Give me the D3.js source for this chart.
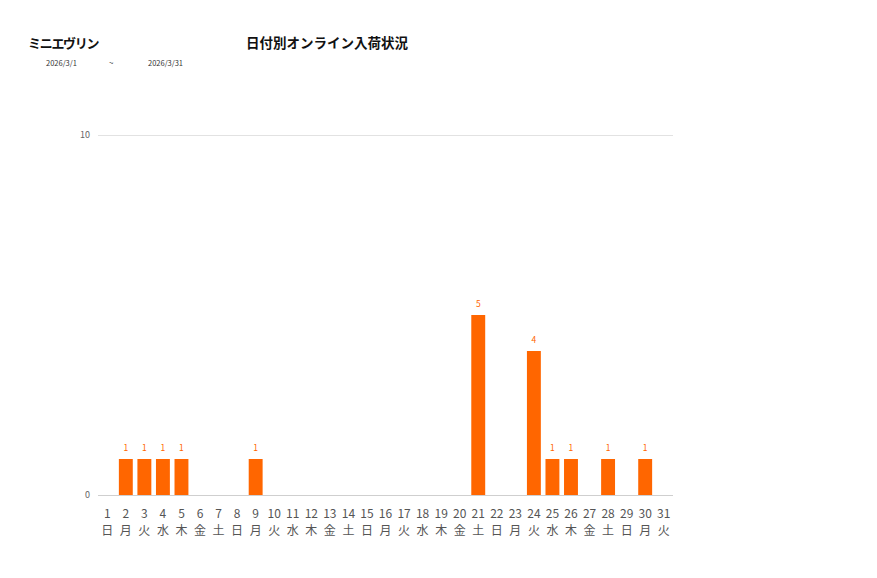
<!DOCTYPE html>
<html lang="ja">
  <head>
    <meta charset="UTF-8" />
    <title>日付別オンライン入荷状況</title>
    <style>
      body { margin: 0; background: #fff; }
      #chart { width: 877px; height: 578px; position: relative; }
      text { font-family: "Noto Sans CJK JP", "Noto Sans", sans-serif; }
    </style>
  </head>
  <body>
    <div id="chart"></div>
    <script src="https://cdn.jsdelivr.net/npm/d3@7/dist/d3.min.js"></script>
    <script>
      // data
      var days = ["1","2","3","4","5","6","7","8","9","10","11","12","13","14","15","16",
                  "17","18","19","20","21","22","23","24","25","26","27","28","29","30","31"];
      var weekdays = ["日","月","火","水","木","金","土","日","月","火","水","木","金","土","日","月",
                      "火","水","木","金","土","日","月","火","水","木","金","土","日","月","火"];
      var values = [0,1,1,1,1,0,0,0,1,0,0,0,0,0,0,0,0,0,0,0,5,0,0,4,1,1,0,1,0,1,0];
      var yTicks = [0, 10];

      var width = 877, height = 578;
      var svg = d3.select("#chart").append("svg")
        .attr("width", width)
        .attr("height", height);

      // header
      svg.append("text").attr("x", 28).attr("y", 48)
        .attr("font-size", 13).attr("font-weight", "bold").attr("fill", "#111")
        .attr("letter-spacing", -1.3)
        .text("ミニエヴリン");
      svg.append("text").attr("x", 327).attr("y", 48)
        .attr("text-anchor", "middle")
        .attr("font-size", 13.5).attr("font-weight", "bold").attr("fill", "#111")
        .text("日付別オンライン入荷状況");
      svg.append("text").attr("x", 46).attr("y", 66).attr("font-size", 7.5).attr("fill", "#333").text("2026/3/1");
      svg.append("text").attr("x", 109).attr("y", 66).attr("font-size", 8).attr("fill", "#333").text("~");
      svg.append("text").attr("x", 148).attr("y", 66).attr("font-size", 7.5).attr("fill", "#333").text("2026/3/31");

      var x = d3.scaleBand().domain(days).range([98, 673]).paddingInner(0.25).paddingOuter(0.125);
      var y = d3.scaleLinear().domain([0, 10]).range([495, 135]);

      var rows = days.map(function (d, i) {
        return { day: d, wd: weekdays[i], value: values[i] };
      });

      // grid
      var grid = svg.append("g")
        .attr("transform", "translate(98,0)")
        .call(d3.axisLeft(y).tickValues(yTicks).tickSize(-575).tickPadding(8));
      grid.select(".domain").remove();
      grid.selectAll(".tick line").attr("stroke", "#e2e2e2");
      grid.selectAll(".tick text").attr("fill", "#666").attr("font-size", 9)
        .attr("font-family", "\"Noto Sans\", sans-serif");
      grid.selectAll(".tick").filter(function (d) { return d === 0; })
        .select("line").attr("stroke", "#cfcfcf");

      // bars
      svg.append("g").selectAll("rect")
        .data(rows)
        .join("rect")
        .attr("x", function (d) { return x(d.day); })
        .attr("width", x.bandwidth())
        .attr("y", function (d) { return y(d.value); })
        .attr("height", function (d) { return y(0) - y(d.value); })
        .attr("fill", "#ff6600");

      // bar labels
      svg.append("g").selectAll("text")
        .data(rows.filter(function (d) { return d.value > 0; }))
        .join("text")
        .attr("x", function (d) { return x(d.day) + x.bandwidth() / 2; })
        .attr("y", function (d) { return y(d.value) - 8; })
        .attr("text-anchor", "middle")
        .attr("font-size", 8.5)
        .attr("fill", "#ff6600")
        .text(function (d) { return d.value; });

      // x axis labels: day number and weekday
      var xAxis = svg.append("g").attr("transform", "translate(0,495)")
        .call(d3.axisBottom(x).tickSize(0).tickPadding(14));
      xAxis.select(".domain").remove();
      xAxis.selectAll(".tick text").attr("fill", "#555").attr("font-size", 12);
      xAxis.selectAll(".tick").append("text")
        .attr("y", 40)
        .attr("text-anchor", "middle")
        .attr("fill", "#555")
        .attr("font-size", 12)
        .text(function (d, i) { return weekdays[i]; });
    </script>
  </body>
</html>
